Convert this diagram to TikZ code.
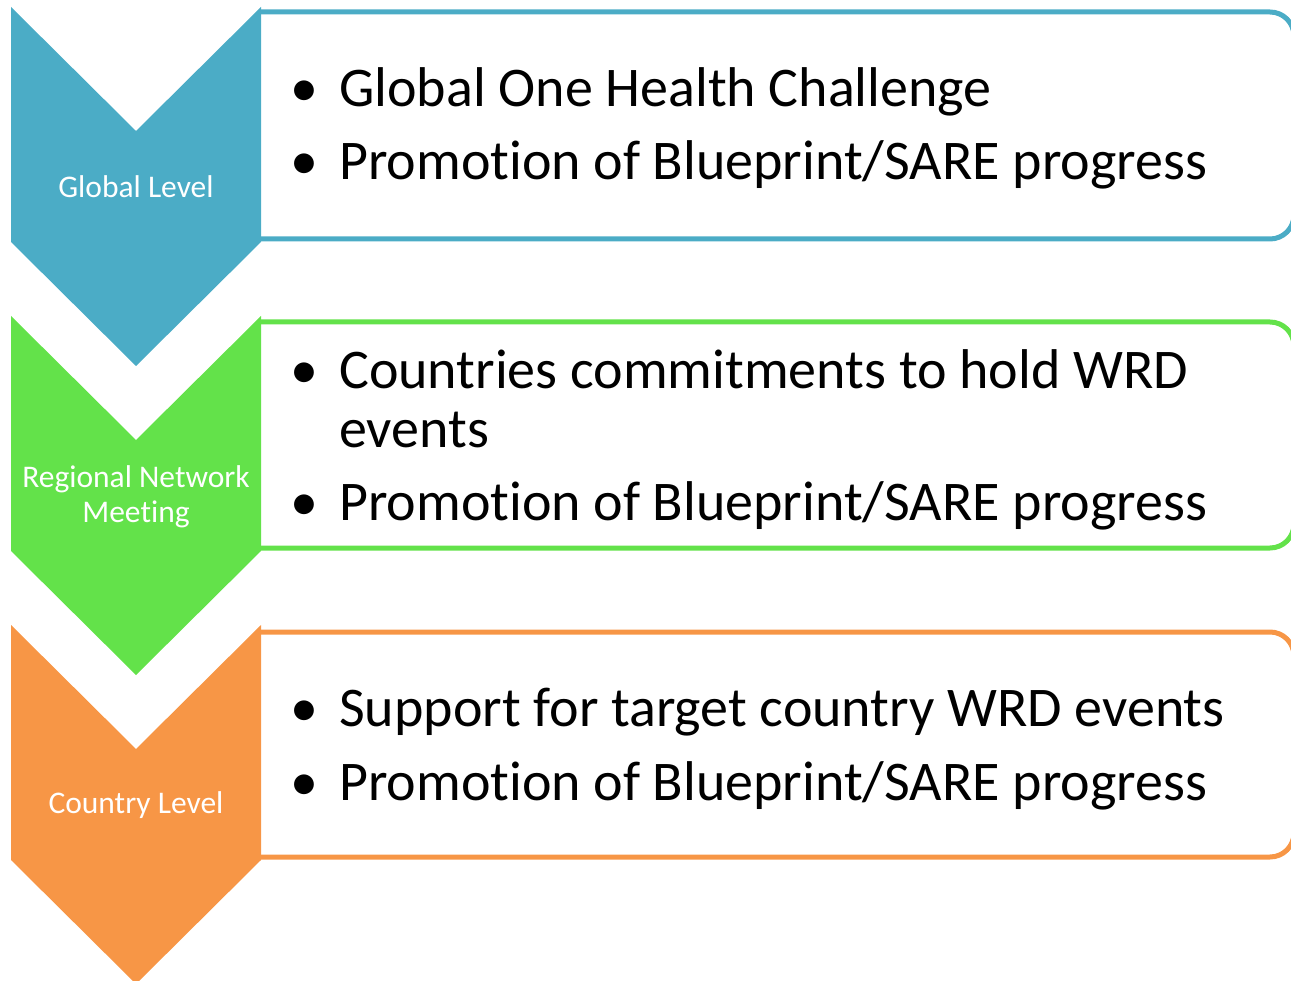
\documentclass[tikz,border=0pt]{standalone}
\usepackage{fontspec}
\setmainfont{Carlito}[Ligatures=NoCommon]
\usepackage{tikz}

\definecolor{lvlblue}{HTML}{4BACC6}
\definecolor{lvlgreen}{HTML}{63E24A}
\definecolor{lvlorange}{HTML}{F79646}

\begin{document}
\begin{tikzpicture}[x=1pt, y=-1pt,
	lvl/.style={text=white, align=center, font=\fontsize{31.5}{35}\selectfont, inner sep=0pt},
	itm/.style={anchor=base west, inner sep=0pt, font=\fontsize{56}{58}\selectfont},
	bul/.style={anchor=base west, inner sep=0pt, font=\fontsize{56}{58}\selectfont},
	boxline/.style={line width=5pt, rounded corners=24pt}]
	\useasboundingbox (0,0) rectangle (1291,981);
	% global level
	\draw[boxline, lvlblue] (261,12) -- (1294,12) -- (1294,239) -- (261,239);
	\fill[lvlblue] (11,7) -- ++(125,124) -- ++(125,-124) -- ++(0,235) -- ++(-125,124) -- ++(-125,-124) -- cycle;
	\node[lvl] (glob) at (136,187) {Global Level};
	\node[bul] (b11) at (290,107) {•};
	\node[itm] (t11) at (339,107) {Global One Health Challenge};
	\node[bul] (b12) at (290,180) {•};
	\node[itm] (t12) at (339,180) {Promotion of Blueprint/SARE progress};
	% regional level
	\draw[boxline, lvlgreen] (261,322) -- (1294,322) -- (1294,548) -- (261,548);
	\fill[lvlgreen] (11,316) -- ++(125,124) -- ++(125,-124) -- ++(0,235) -- ++(-125,124) -- ++(-125,-124) -- cycle;
	\node[lvl] (regn) at (136,497) {Regional Network\\Meeting};
	\node[bul] (b21) at (290,389) {•};
	\node[itm] (t21) at (339,389) {Countries commitments to hold WRD};
	\node[itm] (t21b) at (339,448) {events};
	\node[bul] (b22) at (290,520) {•};
	\node[itm] (t22) at (339,520) {Promotion of Blueprint/SARE progress};
	% country level
	\draw[boxline, lvlorange] (261,632) -- (1294,632) -- (1294,857) -- (261,857);
	\fill[lvlorange] (11,625) -- ++(125,124) -- ++(125,-124) -- ++(0,235) -- ++(-125,124) -- ++(-125,-124) -- cycle;
	\node[lvl] (ctry) at (136,805) {Country Level};
	\node[bul] (b31) at (290,726) {•};
	\node[itm] (t31) at (339,726) {Support for target country WRD events};
	\node[bul] (b32) at (290,800) {•};
	\node[itm] (t32) at (339,800) {Promotion of Blueprint/SARE progress};
\end{tikzpicture}
\end{document}
